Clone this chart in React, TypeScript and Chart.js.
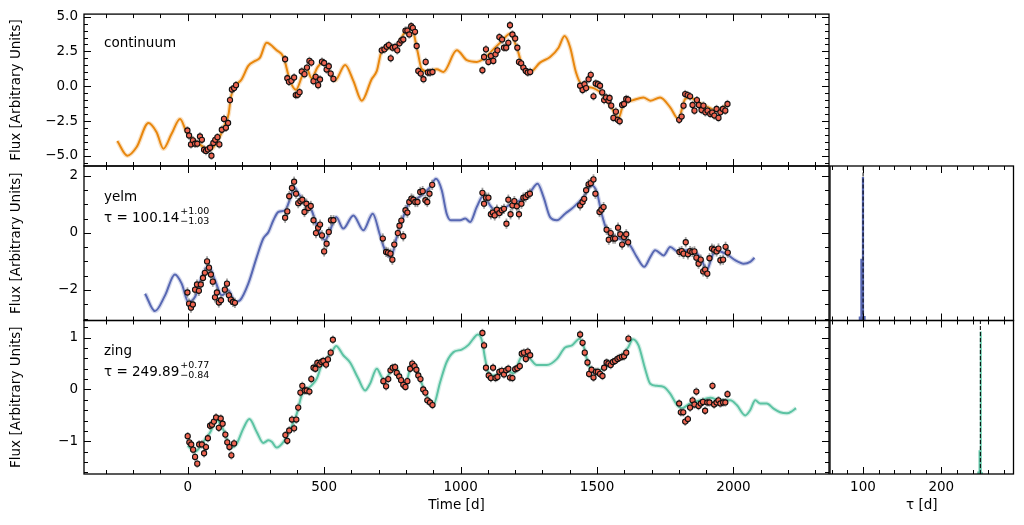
import React, { useEffect, useRef } from "react";
import { Chart, registerables } from "chart.js";

Chart.register(...registerables);

// ---------------- data ----------------
const TIME_TICK_STEP = 500;
const TAU_TICK_STEP = 100;

const CONT_MODEL: [number, number][] = [
  [-258, -3.93], [-221, -4.98], [-187, -4.36], [-144, -2.63], [-114, -3.29], [-89, -4.48], [-59, -3.41],
  [-28, -2.34], [-4, -3.29], [33, -4.0], [82, -4.55], [118, -3.6], [137, -2.7], [150, -1.98], [158, -0.8],
  [170, -0.1], [198, 0.51], [222, 1.46], [247, 1.82], [265, 2.06], [289, 3.12], [326, 2.58], [351, 2.1],
  [375, 0.39], [397, -0.25], [418, 0.68], [434, 1.34], [454, 0.58], [475, 1.34], [495, 1.75], [522, 0.99],
  [540, 0.42], [577, 1.53], [607, 0.39], [638, -1.03], [674, 0.51], [693, 1.1], [711, 2.53], [735, 2.72],
  [766, 2.89], [797, 3.91], [821, 4.15], [842, 2.53], [858, 1.22], [882, 1.06], [913, 1.22], [937, 1.03],
  [986, 2.58], [1023, 1.87], [1059, 1.75], [1090, 2.06], [1120, 2.65], [1151, 3.24], [1181, 3.77],
  [1208, 2.65], [1230, 1.27], [1255, 1.03], [1291, 1.7], [1328, 2.1], [1359, 2.77], [1381, 3.6],
  [1401, 2.82], [1423, 0.99], [1444, 0.11], [1487, -0.13], [1524, -0.68], [1554, -1.56], [1579, -2.27],
  [1597, -1.27], [1627, -1.03], [1670, -0.8], [1695, -1.03], [1731, -0.8], [1768, -1.51], [1798, -2.34],
  [1823, -0.91], [1841, -0.8], [1866, -1.08], [1902, -1.46], [1939, -1.75], [1978, -1.27],
];

const CONT_OBS: [number, number][] = [
  [-1, -3.17], [5, -3.53], [12, -4.17], [19, -3.88], [27, -4.12], [35, -4.12], [45, -3.6], [52, -3.84],
  [60, -4.55], [67, -4.64], [74, -4.53], [82, -4.41], [87, -4.98], [94, -4.07], [101, -3.84], [109, -3.65],
  [116, -4.17], [125, -3.12], [133, -2.34], [140, -2.98], [148, -2.63], [155, -0.99], [162, -0.23],
  [170, -0.13], [177, 0.08],
  [357, 1.94], [365, 0.58], [371, 0.32], [380, 0.39], [390, 0.63], [396, -0.63], [403, -0.61], [410, -0.42],
  [418, 1.06], [428, 0.87], [437, 1.34], [446, 1.82], [453, 1.7], [461, 0.37], [469, 0.68], [478, 0.08],
  [485, 0.49], [492, 1.77], [500, 1.67], [509, 1.2], [517, 1.44], [524, 0.91], [534, 0.53],
  [711, 2.58], [721, 2.65], [729, 2.84], [737, 2.96], [744, 2.01], [751, 2.77], [760, 2.82], [768, 2.58],
  [776, 3.08], [783, 3.29], [790, 3.36], [798, 4.0], [805, 4.0], [812, 3.72], [819, 4.31], [825, 4.19],
  [833, 3.91], [839, 2.89], [845, 1.1], [854, 0.91], [864, 0.51], [872, 1.75], [880, 0.99], [888, 0.99],
  [897, 1.03],
  [1080, 1.15], [1086, 2.1], [1093, 2.65], [1102, 1.75], [1111, 2.17], [1120, 1.82], [1128, 2.29],
  [1135, 2.58], [1142, 3.53], [1152, 3.36], [1159, 2.77], [1167, 2.77], [1175, 3.12], [1181, 4.38],
  [1190, 3.72], [1200, 3.43], [1208, 2.77], [1214, 1.75], [1222, 1.65], [1230, 1.34], [1239, 1.1],
  [1246, 0.99], [1255, 1.03],
  [1438, 0.04], [1447, -0.27], [1454, 0.15], [1460, -0.13], [1469, 0.51], [1477, 0.82], [1487, -0.72],
  [1495, 0.2], [1503, 0.15], [1511, 0.04], [1519, -0.44], [1526, -0.99], [1533, -0.8], [1542, -1.03],
  [1546, -0.84], [1552, -1.39], [1560, -2.27], [1569, -1.82], [1576, -2.41], [1583, -2.51], [1592, -1.34],
  [1599, -1.27], [1607, -0.91], [1614, -0.96],
  [1801, -2.41], [1810, -2.17], [1817, -1.39], [1823, -0.56], [1832, -0.63], [1841, -0.72], [1850, -1.34],
  [1857, -1.75], [1866, -0.99], [1873, -1.34], [1883, -1.7], [1890, -1.39], [1897, -1.87], [1905, -1.75],
  [1915, -1.98], [1922, -1.89], [1930, -2.1], [1938, -1.63], [1945, -2.27], [1952, -1.87], [1961, -1.63],
  [1970, -1.75], [1978, -1.27],
];
const CONT_ERR = 0.3;

const YELM_MODEL: [number, number][] = [
  [-156, -2.13], [-120, -2.74], [-83, -2.19], [-47, -1.46], [-22, -1.78], [2, -2.42], [27, -2.24],
  [51, -1.55], [76, -1.16], [100, -1.66], [125, -2.19], [149, -2.01], [173, -2.42], [192, -2.36],
  [222, -1.78], [253, -0.85], [277, -0.2], [296, 0.03], [314, 0.44], [332, 0.73], [357, 0.79], [375, 1.19],
  [390, 1.6], [406, 1.37], [424, 1.14], [454, 0.79], [473, 0.26], [503, -0.26], [522, 0.09], [544, 0.55],
  [570, 0.15], [607, 0.61], [644, 0.09], [678, 0.67], [705, -0.09], [723, -0.61], [744, -0.85],
  [766, -0.15], [784, 0.38], [809, 1.02], [839, 1.19], [864, 1.37], [888, 1.6], [910, 1.89], [931, 1.49],
  [949, 0.67], [964, 0.44], [998, 0.44], [1017, 0.5], [1035, 0.38], [1059, 0.9], [1084, 1.31],
  [1108, 0.96], [1133, 0.73], [1157, 0.85], [1188, 1.02], [1218, 1.14], [1255, 1.43], [1282, 1.72],
  [1304, 1.25], [1328, 0.55], [1353, 0.44], [1383, 0.67], [1414, 0.9], [1450, 1.25], [1481, 1.66],
  [1499, 1.43], [1517, 0.67], [1536, 0.09], [1566, -0.15], [1597, -0.26], [1621, -0.44], [1646, -0.85],
  [1673, -1.19], [1695, -0.85], [1713, -0.61], [1744, -0.79], [1768, -0.5], [1798, -0.67], [1829, -0.61],
  [1860, -0.67], [1884, -0.96], [1902, -1.31], [1917, -0.96], [1933, -0.61], [1957, -0.67], [1982, -0.79],
  [2006, -0.96], [2037, -1.08], [2061, -1.02], [2077, -0.87],
];

const YELM_OBS: [number, number][] = [
  [-1, -2.09], [5, -2.48], [12, -2.62], [19, -2.51], [27, -1.99], [34, -1.81], [41, -2.03], [48, -1.81],
  [56, -1.58], [63, -1.4], [71, -1.0], [78, -1.22], [85, -1.46], [92, -1.71], [100, -2.26], [107, -2.09],
  [114, -2.44], [122, -2.36], [136, -1.99], [144, -1.78], [151, -2.19], [158, -2.34], [166, -2.42],
  [173, -2.45],
  [357, 0.53], [365, 0.75], [372, 1.28], [382, 1.57], [390, 1.79], [397, 1.37], [405, 1.04], [413, 1.11],
  [420, 1.16], [428, 0.73], [435, 1.02], [442, 0.87], [451, 0.94], [461, 0.44], [470, -0.01], [478, 0.18],
  [485, 0.29], [492, -0.09], [500, -0.65], [509, -0.38], [517, 0.03], [525, 0.44], [534, 0.44],
  [715, -0.2], [727, -0.67], [734, -0.69], [743, -0.73], [750, -0.94], [757, -0.41], [770, -0.01],
  [776, 0.25], [783, 0.43], [790, -0.12], [798, 0.79], [805, 0.71], [812, 1.08], [820, 1.2], [827, 1.16],
  [834, 1.08], [842, 1.08], [852, 1.43], [861, 1.46], [871, 1.14], [878, 1.08], [886, 1.37], [896, 1.68],
  [1080, 1.4], [1086, 1.02], [1093, 1.23], [1102, 1.23], [1111, 0.65], [1118, 0.71], [1125, 0.61],
  [1133, 0.81], [1142, 0.69], [1151, 0.79], [1159, 0.84], [1168, 0.32], [1175, 1.16], [1183, 0.65],
  [1190, 0.96], [1197, 1.11], [1206, 0.93], [1214, 0.65], [1223, 1.02], [1230, 1.23], [1238, 1.25],
  [1246, 1.33], [1254, 1.37],
  [1438, 0.96], [1447, 1.08], [1453, 1.19], [1460, 1.49], [1469, 1.7], [1477, 1.74], [1487, 1.87],
  [1494, 1.37], [1509, 0.73], [1516, 0.81], [1524, 0.9], [1535, 0.11], [1543, -0.24], [1550, -0.01],
  [1559, -0.2], [1566, -0.2], [1577, 0.18], [1585, -0.05], [1592, -0.41], [1599, -0.15], [1607, -0.05],
  [1614, -0.33],
  [1802, -0.67], [1810, -0.64], [1817, -0.73], [1825, -0.33], [1833, -0.75], [1841, -0.64], [1849, -0.67],
  [1857, -0.65], [1864, -0.87], [1872, -1.08], [1880, -0.94], [1889, -1.35], [1896, -1.29], [1904, -1.43],
  [1912, -0.89], [1921, -0.55], [1929, -0.59], [1938, -0.65], [1945, -0.55], [1952, -0.96], [1962, -0.94],
  [1971, -0.49], [1979, -0.69],
];
const YELM_ERR = 0.18;

const ZING_MODEL: [number, number][] = [
  [0, -1.08], [27, -1.2], [57, -1.01], [82, -0.83], [106, -0.59], [131, -0.78], [159, -1.12], [180, -1.04],
  [204, -0.75], [226, -0.57], [253, -0.82], [277, -1.03], [296, -0.98], [308, -1.01], [326, -1.12],
  [351, -1.01], [375, -0.78], [399, -0.48], [418, -0.11], [436, 0.0], [454, 0.08], [473, 0.21], [491, 0.47],
  [509, 0.59], [528, 0.72], [544, 0.84], [570, 0.66], [595, 0.52], [625, 0.21], [650, -0.02], [668, 0.11],
  [693, 0.4], [711, 0.24], [723, 0.18], [748, 0.4], [762, 0.43], [778, 0.27], [797, 0.08], [815, 0.4],
  [827, 0.5], [845, 0.31], [864, 0.02], [882, -0.18], [900, -0.3], [925, 0.14], [949, 0.53], [974, 0.72],
  [1004, 0.77], [1029, 0.86], [1047, 0.98], [1063, 1.06], [1078, 0.95], [1090, 0.59], [1102, 0.32],
  [1120, 0.27], [1145, 0.31], [1169, 0.37], [1194, 0.31], [1218, 0.59], [1233, 0.69], [1255, 0.59],
  [1279, 0.47], [1316, 0.47], [1353, 0.59], [1383, 0.81], [1408, 0.85], [1436, 0.98], [1450, 0.85],
  [1469, 0.47], [1493, 0.37], [1524, 0.4], [1554, 0.53], [1585, 0.63], [1615, 0.82], [1631, 0.97],
  [1652, 0.85], [1676, 0.4], [1695, 0.11], [1719, 0.07], [1744, 0.05], [1768, -0.08], [1792, -0.29],
  [1811, -0.36], [1841, -0.27], [1878, -0.21], [1915, -0.16], [1951, -0.21], [1988, -0.21], [2012, -0.3],
  [2043, -0.5], [2061, -0.4], [2080, -0.21], [2098, -0.27], [2122, -0.27], [2147, -0.37], [2171, -0.44],
  [2196, -0.46], [2214, -0.42], [2229, -0.36],
];

const ZING_OBS: [number, number][] = [
  [0, -0.9], [6, -1.02], [13, -1.06], [20, -1.16], [27, -1.3], [35, -1.43], [42, -1.06], [52, -1.06],
  [60, -1.23], [67, -1.11], [74, -0.94], [82, -0.7], [89, -0.68], [96, -0.62], [104, -0.54], [114, -0.74],
  [121, -0.56], [128, -0.66], [138, -0.87], [145, -1.02], [153, -1.11], [160, -1.27], [170, -1.04],
  [358, -0.88], [365, -0.99], [372, -0.79], [382, -0.58], [390, -0.75], [398, -0.58], [405, -0.35],
  [413, -0.06], [420, 0.07], [429, -0.02], [436, -0.02], [446, -0.04], [453, 0.2], [461, 0.42], [468, 0.4],
  [475, 0.51], [483, 0.48], [490, 0.53], [497, 0.55], [507, 0.48], [514, 0.58], [524, 0.71], [532, 0.96],
  [717, 0.16], [727, 0.06], [735, 0.2], [743, 0.37], [751, 0.42], [760, 0.43], [766, 0.32], [775, 0.25],
  [782, 0.18], [790, 0.09], [798, 0.05], [805, 0.16], [815, 0.4], [823, 0.5], [831, 0.45], [838, 0.38],
  [845, 0.27], [853, 0.2], [863, 0.0], [871, -0.06], [878, -0.21], [888, -0.25], [897, -0.3],
  [1080, 1.09], [1086, 0.85], [1093, 0.42], [1103, 0.27], [1111, 0.22], [1119, 0.42], [1128, 0.22],
  [1135, 0.24], [1142, 0.34], [1151, 0.36], [1159, 0.29], [1167, 0.37], [1175, 0.4], [1181, 0.23],
  [1190, 0.22], [1200, 0.39], [1208, 0.41], [1217, 0.45], [1224, 0.69], [1232, 0.71], [1239, 0.59],
  [1246, 0.73], [1255, 0.66],
  [1438, 1.06], [1447, 0.9], [1455, 0.71], [1465, 0.52], [1471, 0.3], [1480, 0.38], [1487, 0.23],
  [1496, 0.34], [1503, 0.34], [1511, 0.3], [1520, 0.26], [1526, 0.42], [1535, 0.52], [1542, 0.5],
  [1550, 0.47], [1558, 0.53], [1566, 0.55], [1575, 0.59], [1582, 0.61], [1591, 0.63], [1599, 0.64],
  [1607, 0.71], [1615, 0.98],
  [1801, -0.27], [1807, -0.44], [1816, -0.44], [1823, -0.62], [1833, -0.57], [1841, -0.35], [1850, -0.21],
  [1857, -0.29], [1864, -0.04], [1872, -0.32], [1880, -0.27], [1888, -0.24], [1896, -0.41], [1904, -0.25],
  [1912, -0.25], [1923, 0.07], [1929, -0.29], [1938, -0.25], [1945, -0.21], [1952, -0.27], [1962, -0.25],
  [1970, -0.25], [1978, -0.09],
];
const ZING_ERR = 0.08;

// lag posteriors (histograms)
const YELM_TAU = 100.14, YELM_TAU_UP = 1.0, YELM_TAU_LO = 1.03;
const ZING_TAU = 249.89, ZING_TAU_UP = 0.77, ZING_TAU_LO = 0.84;
const YELM_HIST_X = [96, 98, 100, 102];
const YELM_HIST_N = [25, 430, 1000, 30];
const ZING_HIST_X = [247.2, 248.8, 250.4, 252.0];
const ZING_HIST_N = [15, 165, 1000, 10];
const HIST_NMAX = 1080;

// axis ranges
const TIME_RANGE: [number, number] = [-380, 2350];
const TAU_RANGE: [number, number] = [57.9, 292.2];
const CONT_YRANGE: [number, number] = [-5.72, 5.18];
const YELM_YRANGE: [number, number] = [-3.07, 2.34];
const ZING_YRANGE: [number, number] = [-1.63, 1.33];

// ---------------- style / layout ----------------
const FAMILY = "'DejaVu Sans', sans-serif";
const FS = 13.5;
const W = 1024, H = 525;
const LX0 = 84, LX1 = 829, RX0 = 830, RX1 = 1013.5;
const ROWS = [13, 166, 320.5, 474];
const XAX_H = 40;
const MINUS = "\u2212";
const C_CONT = "#e8870e";
const C_YELM = "#5868b3";
const C_ZING = "#5cc3a3";
const C_PT = "#ee6450";

const fmtNum = (v: number, d: number) => (Math.abs(v) < 1e-9 ? (0).toFixed(d) : (v < 0 ? MINUS : "") + Math.abs(v).toFixed(d));
const toXY = (arr: [number, number][]) => arr.map(([x, y]) => ({ x, y }));

function tickValues(min: number, max: number, step: number) {
  const out: number[] = [];
  const k0 = Math.ceil(min / step - 1e-9);
  for (let k = k0; k * step <= max + 1e-9; k++) out.push(Math.round(k * step * 1e6) / 1e6);
  return out;
}

type TickSpec = { major: number; minor: number };
type TextSpec = { dx: number; dy: number; main: string; sup?: string; sub?: string };

function framePlugin(cfg: { x: TickSpec; y?: TickSpec; texts?: TextSpec[]; errIndex?: number; err?: number }) {
  return {
    id: "frameTicks",
    beforeDatasetDraw(chart: any, args: any) {
      if (cfg.errIndex === undefined || args.index !== cfg.errIndex) return;
      const { ctx } = chart;
      const ys = chart.scales.y;
      const meta = chart.getDatasetMeta(args.index);
      const data = chart.data.datasets[args.index].data as { x: number; y: number }[];
      ctx.save();
      ctx.strokeStyle = "rgba(120,120,120,0.7)";
      ctx.lineWidth = 1.8;
      meta.data.forEach((el: any, i: number) => {
        const v = data[i].y;
        ctx.beginPath();
        ctx.moveTo(el.x, ys.getPixelForValue(v - (cfg.err || 0)));
        ctx.lineTo(el.x, ys.getPixelForValue(v + (cfg.err || 0)));
        ctx.stroke();
      });
      ctx.restore();
    },
    afterDraw(chart: any) {
      const { ctx, chartArea: a } = chart;
      const xs = chart.scales.x, ys = chart.scales.y;
      ctx.save();
      ctx.strokeStyle = "#000";
      ctx.lineWidth = 1;
      const line = (x1: number, y1: number, x2: number, y2: number) => {
        ctx.beginPath();
        ctx.moveTo(x1, y1);
        ctx.lineTo(x2, y2);
        ctx.stroke();
      };
      const isMajor = (v: number, s: number) => Math.abs(v / s - Math.round(v / s)) < 1e-6;
      for (const v of tickValues(xs.min, xs.max, cfg.x.minor)) {
        const L = isMajor(v, cfg.x.major) ? 7 : 4;
        const px = Math.round(xs.getPixelForValue(v)) + 0.5;
        line(px, a.bottom, px, a.bottom - L);
        line(px, a.top, px, a.top + L);
      }
      if (cfg.y) {
        for (const v of tickValues(ys.min, ys.max, cfg.y.minor)) {
          const L = isMajor(v, cfg.y.major) ? 7 : 4;
          const py = Math.round(ys.getPixelForValue(v)) + 0.5;
          line(a.left, py, a.left + L, py);
          line(a.right, py, a.right - L, py);
        }
      }
      ctx.lineWidth = 1.3;
      ctx.strokeRect(a.left, a.top, a.right - a.left, a.bottom - a.top);
      // annotations
      ctx.fillStyle = "#000";
      ctx.textBaseline = "alphabetic";
      ctx.textAlign = "left";
      for (const t of cfg.texts || []) {
        const x = a.left + t.dx, y = a.top + t.dy;
        ctx.font = `${FS}px ${FAMILY}`;
        ctx.fillText(t.main, x, y);
        const w = ctx.measureText(t.main).width;
        ctx.font = `9.5px ${FAMILY}`;
        if (t.sup) ctx.fillText(t.sup, x + w + 1, y - 7.5);
        if (t.sub) ctx.fillText(t.sub, x + w + 1, y + 2.5);
      }
      ctx.restore();
    },
  };
}

const baseFont = { family: FAMILY, size: FS };

function horizAxis(range: [number, number], step: number, title: string, showLabels: boolean) {
  return {
    type: "linear",
    min: range[0],
    max: range[1],
    offset: false,
    grid: { display: false, drawTicks: false },
    border: { display: false },
    ticks: {
      display: showLabels,
      autoSkip: false,
      maxRotation: 0,
      minRotation: 0,
      padding: 5,
      color: "#000",
      font: baseFont,
      callback: (v: any) => fmtNum(Number(v), 0),
    },
    afterBuildTicks: (s: any) => {
      s.ticks = tickValues(range[0], range[1], step).map((value) => ({ value }));
    },
    title: { display: showLabels, text: title, color: "#000", font: baseFont, padding: { top: 0, bottom: 0 } },
    afterFit: (s: any) => {
      s.height = showLabels ? XAX_H : 0;
    },
  };
}

function fluxAxis(range: [number, number], step: number, dec: number) {
  return {
    type: "linear",
    min: range[0],
    max: range[1],
    grid: { display: false, drawTicks: false },
    border: { display: false },
    ticks: {
      autoSkip: false,
      padding: 6,
      color: "#000",
      font: baseFont,
      callback: (v: any) => fmtNum(Number(v), dec),
    },
    afterBuildTicks: (s: any) => {
      s.ticks = tickValues(range[0], range[1], step).map((value) => ({ value }));
    },
    title: {
      display: true,
      text: "Flux [Arbitrary Units]",
      color: "#000",
      font: baseFont,
      padding: { top: 8.7, bottom: 0 },
    },
    afterFit: (s: any) => {
      s.width = LX0;
    },
  };
}

function lightCurveConfig(opts: {
  row: number;
  model: [number, number][];
  obs: [number, number][];
  err: number;
  color: string;
  yRange: [number, number];
  yMajor: number;
  yMinor: number;
  dec: number;
  texts: TextSpec[];
}) {
  const showX = opts.row === 2;
  const modelData = toXY(opts.model);
  return {
    type: "line",
    data: {
      datasets: [
        {
          data: toXY(opts.obs),
          showLine: false,
          pointRadius: 2.6,
          pointBackgroundColor: C_PT,
          pointBorderColor: "#111",
          pointBorderWidth: 1.1,
          order: 0,
        },
        {
          data: modelData,
          borderColor: opts.color,
          borderWidth: 2,
          pointRadius: 0,
          cubicInterpolationMode: "monotone",
          fill: false,
          order: 1,
        },
        {
          data: modelData,
          borderColor: opts.color + "40",
          borderWidth: 4.5,
          pointRadius: 0,
          cubicInterpolationMode: "monotone",
          fill: false,
          order: 2,
        },
      ],
    },
    options: {
      responsive: false,
      animation: false,
      devicePixelRatio: 1,
      events: [],
      layout: {
        padding: {
          left: 0,
          top: ROWS[opts.row],
          right: W - LX1,
          bottom: H - ROWS[opts.row + 1] - (showX ? XAX_H : 0),
        },
      },
      plugins: { legend: { display: false }, tooltip: { enabled: false }, title: { display: false } },
      scales: {
        x: horizAxis(TIME_RANGE, TIME_TICK_STEP, "Time [d]", showX),
        y: fluxAxis(opts.yRange, opts.yMajor, opts.dec),
      },
    },
    plugins: [
      framePlugin({
        x: { major: TIME_TICK_STEP, minor: 100 },
        y: { major: opts.yMajor, minor: opts.yMinor },
        texts: opts.texts,
        errIndex: 0,
        err: opts.err,
      }),
    ],
  };
}

function histConfig(opts: { row: number; xs: number[]; ns: number[]; tau: number; color: string }) {
  const showX = opts.row === 2;
  return {
    type: "line",
    data: {
      datasets: [
        {
          type: "line",
          data: [
            { x: opts.tau, y: 0 },
            { x: opts.tau, y: HIST_NMAX },
          ],
          borderColor: "#000",
          borderWidth: 1,
          borderDash: [4, 2],
          pointRadius: 0,
          order: 0,
        },
        {
          type: "bar",
          data: opts.xs.map((x, i) => ({ x, y: opts.ns[i] })),
          backgroundColor: opts.color,
          borderWidth: 0,
          barPercentage: 1,
          categoryPercentage: 1,
          order: 1,
        },
      ],
    },
    options: {
      responsive: false,
      animation: false,
      devicePixelRatio: 1,
      events: [],
      layout: {
        padding: {
          left: RX0,
          top: ROWS[opts.row],
          right: W - RX1,
          bottom: H - ROWS[opts.row + 1] - (showX ? XAX_H : 0),
        },
      },
      plugins: { legend: { display: false }, tooltip: { enabled: false }, title: { display: false } },
      scales: {
        x: horizAxis(TAU_RANGE, TAU_TICK_STEP, "\u03c4 [d]", showX),
        y: { type: "linear", display: false, min: 0, max: HIST_NMAX },
      },
    },
    plugins: [framePlugin({ x: { major: TAU_TICK_STEP, minor: 20 } })],
  };
}

export default function App() {
  const r1 = useRef<HTMLCanvasElement>(null);
  const r2 = useRef<HTMLCanvasElement>(null);
  const r3 = useRef<HTMLCanvasElement>(null);
  const r4 = useRef<HTMLCanvasElement>(null);
  const r5 = useRef<HTMLCanvasElement>(null);

  useEffect(() => {
    Chart.defaults.font.family = FAMILY;
    const charts: Chart[] = [];
    const mk = (ref: React.RefObject<HTMLCanvasElement>, cfg: any) => {
      if (ref.current) charts.push(new Chart(ref.current, cfg));
    };
    mk(
      r1,
      lightCurveConfig({
        row: 0,
        model: CONT_MODEL,
        obs: CONT_OBS,
        err: CONT_ERR,
        color: C_CONT,
        yRange: CONT_YRANGE,
        yMajor: 2.5,
        yMinor: 0.5,
        dec: 1,
        texts: [{ dx: 20, dy: 33, main: "continuum" }],
      })
    );
    mk(
      r2,
      lightCurveConfig({
        row: 1,
        model: YELM_MODEL,
        obs: YELM_OBS,
        err: YELM_ERR,
        color: C_YELM,
        yRange: YELM_YRANGE,
        yMajor: 2,
        yMinor: 0.5,
        dec: 0,
        texts: [
          { dx: 20, dy: 34.5, main: "yelm" },
          {
            dx: 20,
            dy: 55.5,
            main: `\u03c4 = ${YELM_TAU.toFixed(2)}`,
            sup: `+${YELM_TAU_UP.toFixed(2)}`,
            sub: `${MINUS}${YELM_TAU_LO.toFixed(2)}`,
          },
        ],
      })
    );
    mk(
      r3,
      lightCurveConfig({
        row: 2,
        model: ZING_MODEL,
        obs: ZING_OBS,
        err: ZING_ERR,
        color: C_ZING,
        yRange: ZING_YRANGE,
        yMajor: 1,
        yMinor: 0.2,
        dec: 0,
        texts: [
          { dx: 20, dy: 34, main: "zing" },
          {
            dx: 20,
            dy: 55,
            main: `\u03c4 = ${ZING_TAU.toFixed(2)}`,
            sup: `+${ZING_TAU_UP.toFixed(2)}`,
            sub: `${MINUS}${ZING_TAU_LO.toFixed(2)}`,
          },
        ],
      })
    );
    mk(r4, histConfig({ row: 1, xs: YELM_HIST_X, ns: YELM_HIST_N, tau: YELM_TAU, color: C_YELM }));
    mk(r5, histConfig({ row: 2, xs: ZING_HIST_X, ns: ZING_HIST_N, tau: ZING_TAU, color: C_ZING }));
    return () => charts.forEach((c) => c.destroy());
  }, []);

  const cs: React.CSSProperties = { position: "absolute", left: 0, top: 0 };
  return (
    <div style={{ position: "absolute", left: 0, top: 0, width: W, height: H, background: "#fff" }}>
      <canvas ref={r1} width={W} height={H} style={cs} />
      <canvas ref={r2} width={W} height={H} style={cs} />
      <canvas ref={r3} width={W} height={H} style={cs} />
      <canvas ref={r4} width={W} height={H} style={cs} />
      <canvas ref={r5} width={W} height={H} style={cs} />
    </div>
  );
}
